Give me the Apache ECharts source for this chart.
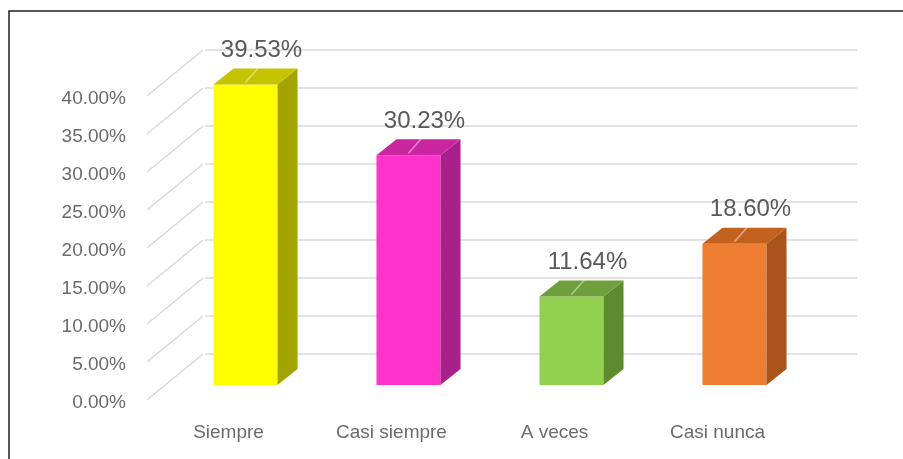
<!DOCTYPE html>
<html>
<head>
<meta charset="utf-8">
<script src="https://cdn.jsdelivr.net/npm/echarts@6/dist/echarts.min.js"></script>
<style>
  html, body { margin: 0; padding: 0; background: #ffffff; }
  #chart { width: 903px; height: 459px; }
</style>
</head>
<body>
<div id="chart"></div>
<script>
// Survey answers and their share of responses
const categories = ['Siempre', 'Casi siempre', 'A veces', 'Casi nunca'];
const percentages = [39.53, 30.23, 11.64, 18.60];
const yTicks = [0, 5, 10, 15, 20, 25, 30, 35, 40];

// Face colours of each 3D column: front, side, top
const frontColors = ['#ffff00', '#ff33cc', '#92d050', '#ed7d31'];
const sideColors  = ['#a3a300', '#a8208a', '#5d8c2e', '#a9541a'];
const topColors   = ['#c4c400', '#c9259f', '#6e9f3c', '#c3611f'];

const FONT = '"Liberation Sans", Arial, sans-serif';
const GRID_COLOR = '#d9d9d9';
const AXIS_TEXT = '#6b6b6b';

// Perspective offsets (pixels) from the back wall
const FRONT_DX = -41, FRONT_DY = 31;   // front face of the columns
const DEPTH_DX = 20, DEPTH_DY = -16;   // column depth
const WALL_DX = 56, WALL_DY = -46;     // side wall depth

const chart = echarts.init(document.getElementById('chart'), null, { renderer: 'canvas' });

function renderColumn(params, api) {
  const i = api.value(0);
  const v = api.value(1);
  const base = api.coord([i, 0]);
  const top = api.coord([i, v]);
  const band = api.size([1, 0])[0];
  const fw = band * 0.393;
  const x0 = base[0] + FRONT_DX - fw / 2;
  const x1 = x0 + fw;
  const yT = top[1] + FRONT_DY;
  const yB = base[1] + FRONT_DY;
  const lx = x0 + fw / 2 + 16;
  const ly = yT + DEPTH_DY - 18;
  return {
    type: 'group',
    children: [
      { type: 'rect', shape: { x: x0, y: yT, width: fw, height: yB - yT },
        style: { fill: frontColors[i] } },
      { type: 'polygon', shape: { points: [[x1, yT], [x1 + DEPTH_DX, yT + DEPTH_DY], [x1 + DEPTH_DX, yB + DEPTH_DY], [x1, yB]] },
        style: { fill: sideColors[i] } },
      { type: 'polygon', shape: { points: [[x0, yT], [x0 + DEPTH_DX, yT + DEPTH_DY], [x1 + DEPTH_DX, yT + DEPTH_DY], [x1, yT]] },
        style: { fill: topColors[i] } },
      { type: 'line', shape: { x1: lx - 2, y1: yT + DEPTH_DY - 2, x2: lx - 16, y2: yT - 2 },
        style: { stroke: 'rgba(255,255,255,0.45)', lineWidth: 1.5 } },
      { type: 'text', style: {
          text: v.toFixed(2) + '%', x: lx, y: ly, align: 'center', verticalAlign: 'middle',
          font: '24px ' + FONT, fill: '#595959' } }
    ]
  };
}

// Side wall: a receding line per tick, with the tick label at its front end
function renderSideWallTick(params, api) {
  const t = api.value(1);
  const y = api.coord([0, t])[1];
  const xb = params.coordSys.x - 2;
  const xf = xb - WALL_DX, yf = y - WALL_DY;
  return {
    type: 'group',
    children: [
      { type: 'line', shape: { x1: xf, y1: yf, x2: xb, y2: y },
        style: { stroke: GRID_COLOR, lineWidth: 1.5 } },
      { type: 'text', style: {
          text: t.toFixed(2) + '%', x: xf - 21, y: yf + 3, align: 'right', verticalAlign: 'middle',
          font: '19px ' + FONT, fill: AXIS_TEXT } }
    ]
  };
}

chart.setOption({
  animation: false,
  backgroundColor: '#ffffff',
  graphic: [{
    type: 'rect', shape: { x: 9, y: 11, width: 900, height: 460 },
    style: { fill: 'none', stroke: '#1f1f1f', lineWidth: 1.5 }, silent: true
  }],
  grid: { left: 205, right: 46, top: 50, bottom: 105, containLabel: false, outerBoundsMode: 'none' },
  xAxis: {
    type: 'category',
    data: categories,
    axisLine: { show: false },
    axisTick: { show: false },
    axisLabel: { margin: 69, padding: [0, 116, 0, 0], fontSize: 19, fontFamily: FONT, color: AXIS_TEXT }
  },
  yAxis: {
    type: 'value',
    min: 0, max: 40, interval: 5,
    axisLine: { show: false },
    axisTick: { show: false },
    axisLabel: { show: false },
    splitLine: { lineStyle: { color: GRID_COLOR, width: 1.5 } }
  },
  series: [
    {
      type: 'custom',
      renderItem: renderSideWallTick,
      data: yTicks.map(t => [0, t]),
      silent: true
    },
    {
      type: 'custom',
      renderItem: renderColumn,
      data: percentages.map((p, i) => [i, p]),
      encode: { x: 0, y: 1 }
    }
  ]
});
</script>
</body>
</html>
